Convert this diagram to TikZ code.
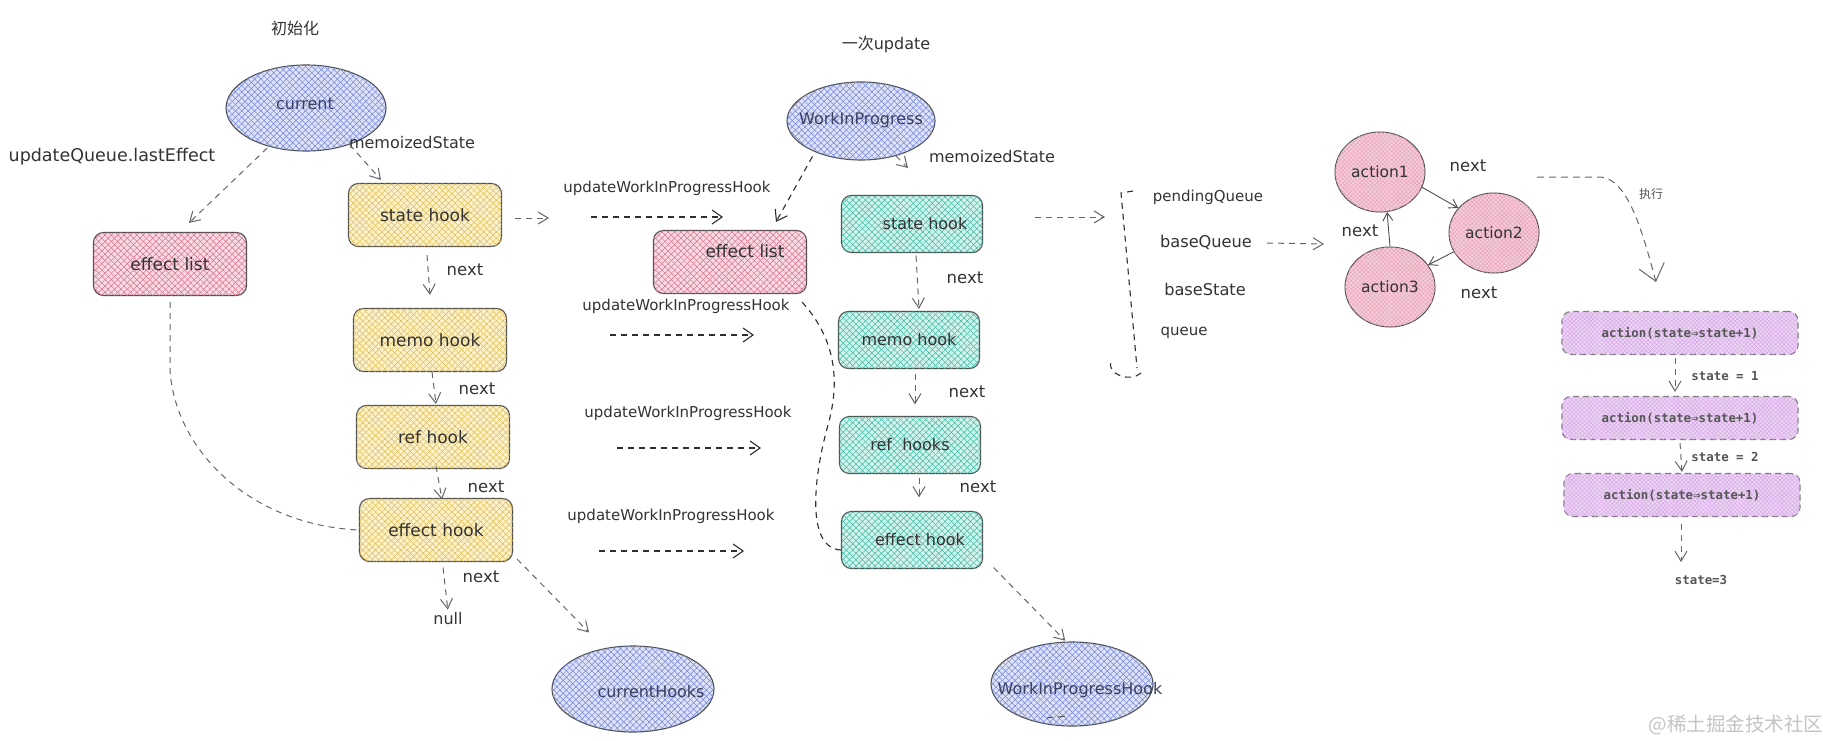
\documentclass[tikz,border=0pt]{standalone}
\usepackage{fontspec}
\setmainfont{DejaVu Sans}
\newfontfamily\cjk{Noto Sans CJK SC}
\newfontfamily\monof{DejaVu Sans Mono}
\usetikzlibrary{arrows.meta,patterns.meta,shapes.geometric}
\definecolor{ink}{HTML}{333333}
\definecolor{edge}{HTML}{4F4F4F}
\definecolor{arrc}{HTML}{666666}
\definecolor{arrd}{HTML}{2E2E2E}
\definecolor{etext}{HTML}{3A4060}
\definecolor{bluef}{HTML}{DDE2F8}
\definecolor{blueh}{HTML}{7084D6}
\definecolor{yelf}{HTML}{FBF1CA}
\definecolor{yelh}{HTML}{E0BC55}
\definecolor{pinkf}{HTML}{F8DAE2}
\definecolor{pinkh}{HTML}{D6708F}
\definecolor{tealf}{HTML}{D2F2EC}
\definecolor{tealh}{HTML}{3FB8A6}
\definecolor{actf}{HTML}{F5CCD8}
\definecolor{acth}{HTML}{E6A0B5}
\definecolor{purf}{HTML}{EDD3F5}
\definecolor{purh}{HTML}{D3A5E4}
\definecolor{pedge}{HTML}{777777}
\definecolor{mtext}{HTML}{555555}
\definecolor{wmark}{HTML}{C4C4C4}
\tikzset{
  xh/.style={postaction={pattern color=#1,pattern={Lines[angle=45,distance=4.5pt,line width=0.5pt]}},
             postaction={pattern color=#1,pattern={Lines[angle=-45,distance=4.5pt,line width=0.5pt]}}},
  xhf/.style={postaction={pattern color=#1,pattern={Lines[angle=45,distance=3pt,line width=0.4pt]}},
              postaction={pattern color=#1,pattern={Lines[angle=-45,distance=3pt,line width=0.4pt]}}},
  hbox/.style={draw=edge,line width=1.1pt,rounded corners=10pt,text=ink,font=\fontsize{17}{20}\selectfont,inner sep=2pt},
  yhook/.style={hbox,fill=yelf,xh=yelh,minimum width=153pt,minimum height=63pt},
  phook/.style={hbox,fill=pinkf,xh=pinkh,minimum width=153pt,minimum height=63pt},
  thook/.style={hbox,fill=tealf,xh=tealh,minimum width=141pt,minimum height=57pt,font=\fontsize{16}{19}\selectfont},
  ellip/.style={ellipse,draw=edge,line width=1.1pt,fill=bluef,xh=blueh,inner sep=0pt},
  act/.style={ellipse,draw=edge,line width=1pt,fill=actf,xhf=acth,inner sep=0pt,minimum width=90pt,minimum height=80pt,text=ink,font=\fontsize{15.5}{18}\selectfont},
  pbox/.style={draw=pedge,dash pattern=on 6pt off 4pt,line width=1.1pt,rounded corners=9pt,fill=purf,xhf=purh,minimum width=236pt,minimum height=43pt,text=mtext,font=\monof\bfseries\fontsize{12.4}{14}\selectfont},
  boxtxt/.style={text=ink,font=\fontsize{17}{20}\selectfont,inner sep=0pt},
  lbl/.style={text=ink,font=\fontsize{15}{18}\selectfont,inner sep=1pt},
  nxt/.style={text=ink,font=\fontsize{16.5}{20}\selectfont,inner sep=1pt},
  etxt/.style={text=etext,font=\fontsize{16}{19}\selectfont,inner sep=0pt},
  ttl/.style={text=ink,font=\fontsize{16}{19}\selectfont,inner sep=1pt},
  mlbl/.style={text=mtext,font=\monof\bfseries\fontsize{12.4}{14}\selectfont,inner sep=1pt},
  darr/.style={draw=arrc,line width=1pt,dash pattern=on 6pt off 5pt,-{Straight Barb[length=10pt,width=12pt,line width=1pt]}},
  darrk/.style={draw=arrd,line width=1.1pt,dash pattern=on 6pt off 5pt,-{Straight Barb[length=10pt,width=14pt,line width=1.1pt]}},
  sarr/.style={draw=edge,line width=0.9pt,-{Straight Barb[length=8pt,width=10pt,line width=0.9pt]}},
  dline/.style={draw=arrc,line width=1pt,dash pattern=on 6pt off 5pt},
  dlinek/.style={draw=arrd,line width=1.1pt,dash pattern=on 6pt off 5pt},
}
\begin{document}
\begin{tikzpicture}[x=1pt,y=-1pt]
\path[use as bounding box] (0,0) rectangle (1823,741);
\fill[white] (0,0) rectangle (1823,741);

% titles
\node[ttl] (tinit) at (295,28) {{\cjk 初始化}};
\node[ttl] (tupd) at (886,44) {{\cjk 一次}update};

% ---------- left: initial mount
\node[ellip,minimum width=160pt,minimum height=86pt] (cur) at (306,108) {};
\node[etxt] (curt) at (305,104) {current};
\node[lbl,font=\fontsize{17.5}{20}\selectfont] (lq) at (112,157) {updateQueue.lastEffect};
\node[lbl,font=\fontsize{16}{19}\selectfont] (lms1) at (412,143) {memoizedState};
\node[phook] (efl) at (170,264) {effect list};
\node[yhook] (sh1) at (425,215) {state hook};
\node[yhook] (mh1) at (430,340) {memo hook};
\node[yhook] (rh1) at (433,437) {ref hook};
\node[yhook] (eh1) at (436,530) {effect hook};
\node[nxt] (n1) at (465,270) {next};
\node[nxt] (n2) at (477,389) {next};
\node[nxt] (n3) at (486,487) {next};
\node[nxt] (n4) at (481,577) {next};
\node[lbl,font=\fontsize{16}{19}\selectfont] (nul) at (448,619) {null};
\node[ellip,minimum width=162pt,minimum height=86pt] (chk) at (633,689) {};
\node[etxt] (chkt) at (651,692) {currentHooks};

\draw[darr,shorten <=2pt] (cur.226) -- ([xshift=19pt,yshift=9pt]efl.north);
\draw[darr] (cur.-40) -- ([xshift=-44pt,yshift=3pt]sh1.north);
\draw[darr] ([xshift=2pt,yshift=-8pt]sh1.south) -- ([yshift=13pt]mh1.north);
\draw[darr] ([xshift=2pt]mh1.south) -- ([xshift=3pt,yshift=1pt]rh1.north);
\draw[darr] ([xshift=3pt,yshift=3pt]rh1.south) -- ([xshift=6pt,yshift=-1.5pt]eh1.north);
\draw[darr,shorten >=2pt] ([xshift=7pt,yshift=-5.5pt]eh1.south) -- (nul.north);
\draw[darr,shorten >=22pt] ([xshift=4pt,yshift=3pt]eh1.south east) -- (chk.125);
\draw[dline] ([yshift=-6pt]efl.south) -- ++(0,68) .. controls (175,450) and (250,525) .. (eh1.west);
\coordinate (s1r) at (549,218);
\draw[darr] ([xshift=13pt,yshift=-3pt]sh1.east) -- (s1r);

% ---------- middle: update
\node[lbl] (u1) at (667,188) {updateWorkInProgressHook};
\node[lbl] (u2) at (686,306) {updateWorkInProgressHook};
\node[lbl] (u3) at (688,413) {updateWorkInProgressHook};
\node[lbl] (u4) at (671,516) {updateWorkInProgressHook};
\coordinate (u1a) at (591,217); \coordinate (u1b) at (723,217);
\coordinate (u2a) at (610,335); \coordinate (u2b) at (754,335);
\coordinate (u3a) at (617,448); \coordinate (u3b) at (761,448);
\coordinate (u4a) at (599,551); \coordinate (u4b) at (744,551);
\draw[darrk] (u1a) -- (u1b);
\draw[darrk] (u2a) -- (u2b);
\draw[darrk] (u3a) -- (u3b);
\draw[darrk] (u4a) -- (u4b);

\node[ellip,minimum width=148pt,minimum height=78pt] (wip) at (861,121) {};
\node[etxt] (wipt) at (861,120) {WorkInProgress};
\node[lbl,font=\fontsize{16}{19}\selectfont] (lms2) at (992,157) {memoizedState};
\coordinate (wipm) at (908,168);
\node[phook] (efl2) at (730,262) {};
\node[boxtxt] (efl2t) at (745,251) {effect list};
\node[thook] (sh2) at (912,224) {\hspace*{26pt}state hook};
\node[thook] (mh2) at (909,340) {memo hook};
\node[thook] (rh2) at (910,445) {ref~~hooks};
\node[thook] (eh2) at (912,540) {\hspace*{16pt}effect hook};
\node[nxt] (m1) at (965,278) {next};
\node[nxt] (m2) at (967,392) {next};
\node[nxt] (m3) at (978,487) {next};
\node[ellip,minimum width=162pt,minimum height=84pt] (wiph) at (1072,684) {};
\node[etxt] (wipht) at (1080,690) {WorkInProgressHook};
\draw[draw=edge,line width=1pt] (1047,718) -- (1053,717) (1058,717) -- (1065,716);

\draw[darr] (wip.-45) -- (wipm);
\draw[darrk,shorten <=5pt] (wip.214) -- ([xshift=46pt,yshift=8pt]efl2.north);
\draw[darr] ([xshift=4pt,yshift=-2.5pt]sh2.south) -- ([xshift=10pt,yshift=2pt]mh2.north);
\draw[darr] ([xshift=6pt,yshift=-5pt]mh2.south) -- ([xshift=5pt,yshift=11.5pt]rh2.north);
\draw[darr] ([xshift=9pt,yshift=-3.5pt]rh2.south) -- ([xshift=7pt,yshift=13.5pt]eh2.north);
\draw[darr,shorten >=1pt] ([xshift=10.5pt,yshift=1.5pt]eh2.south east) -- ([xshift=-6pt]wiph.north);
\draw[dlinek] ([xshift=-5pt,yshift=-8pt]efl2.south east) .. controls (832,335) and (842,375) .. (828,425)
   .. controls (814,475) and (805,548) .. ([yshift=-10pt]eh2.west);
\coordinate (brk) at (1105,217);
\draw[darr] ([xshift=51.5pt,yshift=7pt]sh2.east) -- (brk);

% ---------- right: queue
\draw[dlinek] (1133,191) -- (1121,193) -- (1137,368);
\draw[dlinek] (1141,373) .. controls (1130,383) and (1106,374) .. (1111,361);
\node[lbl] (pq) at (1208,197) {pendingQueue};
\node[lbl,font=\fontsize{16.2}{19}\selectfont] (bq) at (1206,242) {baseQueue};
\node[lbl,font=\fontsize{16.2}{19}\selectfont] (bs) at (1205,289) {baseState};
\node[lbl] (qu) at (1184,333) {queue};
\coordinate (bqe) at (1324,244);
\draw[darr] ([xshift=14pt,yshift=-1pt]bq.east) -- (bqe);

\node[act] (a1) at (1380,172) {action1};
\node[act] (a2) at (1494,233) {action2};
\node[act] (a3) at (1390,287) {action3};
\node[nxt] (k1) at (1468,166) {next};
\node[nxt] (k2) at (1360,231) {next};
\node[nxt] (k3) at (1479,293) {next};
\draw[sarr] (a1.-20) -- (a2.145);
\draw[sarr] (a2.205) -- (a3.30);
\draw[sarr] (a3.north) -- (a1.-80);

\node[text=mtext,font=\cjk\fontsize{12}{14}\selectfont,inner sep=1pt] (exe) at (1651,194) {执行};
\coordinate (ex0) at (1537,177);
\coordinate (ex1) at (1656,282);
\draw[draw=arrc,line width=1pt,dash pattern=on 7pt off 5pt,-{Straight Barb[length=16pt,width=26pt,line width=1pt]}]
   (ex0) -- (1601,177) .. controls (1628,180) and (1642,230) .. (ex1);

\node[pbox] (p1) at (1680,333) {action(state⇒state+1)};
\node[pbox] (p2) at (1680,418) {action(state⇒state+1)};
\node[pbox] (p3) at (1682,495) {action(state⇒state+1)};
\node[mlbl] (s1) at (1725,376) {state = 1};
\node[mlbl] (s2) at (1725,457) {state = 2};
\node[mlbl] (s3) at (1701,580) {state=3};
\draw[darr] ([xshift=-5pt,yshift=-2.5pt]p1.south) -- ([xshift=-5pt,yshift=4pt]p2.north);
\draw[darr,shorten >=1pt] ([yshift=-3pt]p2.south) -- (p3.north);
\draw[darr] ([xshift=-1pt,yshift=-6.5pt]p3.south) -- ([xshift=-20pt,yshift=12pt]s3.north);

\node[text=wmark,font=\cjk\fontsize{19.5}{22}\selectfont,inner sep=0pt] (wm) at (1736,725) {@稀土掘金技术社区};
\end{tikzpicture}
\end{document}
